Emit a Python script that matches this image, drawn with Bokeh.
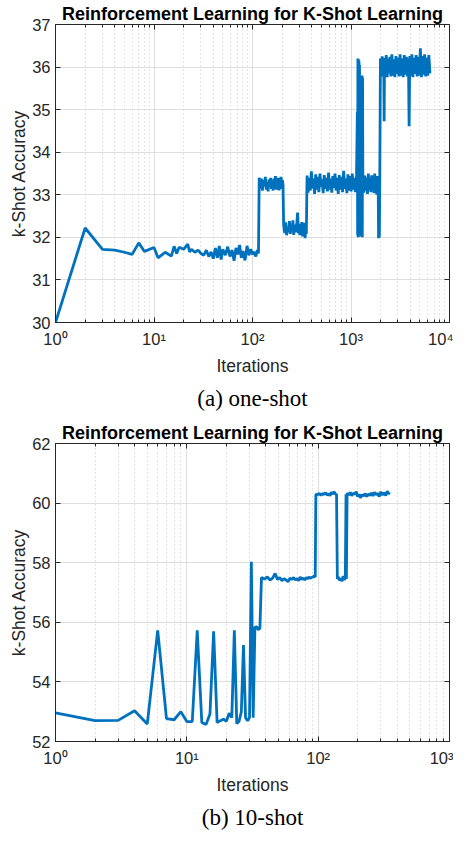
from bokeh.plotting import figure
from bokeh.models import (Range1d, FixedTicker, LogAxis, LinearAxis, Title,
                          CustomJSTickFormatter)
from bokeh.layouts import column
from bokeh.embed import file_html
from bokeh.resources import INLINE

# ---------------- data: one-shot ----------------
one_x_a = [1, 2, 3, 4, 5, 6, 7, 8, 10, 11, 13, 15, 16, 17, 18, 20, 22, 23,
           24, 26, 28, 30, 32, 34, 36, 38, 40, 42, 44, 46, 48, 50, 53, 56, 59,
           62, 65, 68, 71, 74, 77, 80, 84, 88, 92, 96, 100, 104, 108, 112, 115]
one_y_a = [30.0, 32.22, 31.72, 31.70, 31.65, 31.60, 31.87, 31.67, 31.76, 31.52,
           31.65, 31.56, 31.79, 31.62, 31.77, 31.72, 31.84, 31.66,
           31.72, 31.65, 31.70, 31.62, 31.58, 31.70, 31.55, 31.66, 31.50, 31.75,
           31.52, 31.80, 31.48, 31.72, 31.58, 31.78, 31.55, 31.70, 31.45, 31.75,
           31.60, 31.82, 31.52, 31.68, 31.46, 31.80, 31.58, 31.72, 31.60, 31.66,
           31.55, 31.70, 31.62]
one_x_b = [117, 120, 123, 126, 129, 132, 135, 138, 141, 144, 147, 150, 153, 156,
           159, 162, 165, 168, 171, 174, 177, 180, 183, 186, 189, 192, 195, 198,
           201, 204]
one_y_b = [33.40, 33.15, 33.38, 33.10, 33.35, 33.20, 33.42, 33.12, 33.30, 33.08,
           33.36, 33.18, 33.40, 33.14, 33.32, 33.10, 33.38, 33.22, 33.44, 33.12,
           33.34, 33.16, 33.40, 33.10, 33.36, 33.20, 33.42, 33.14, 33.35, 33.25]
one_x_c = [207, 212, 217, 222, 227, 232, 237, 242, 247, 252, 257, 262, 267, 272,
           277, 282, 287, 292, 297, 302, 307, 312, 317, 322, 327, 332, 337, 342,
           347, 352]
one_y_c = [32.30, 32.10, 32.35, 32.05, 32.25, 32.12, 32.38, 32.08, 32.28, 32.15,
           32.40, 32.06, 32.30, 32.12, 32.22, 32.35, 32.58, 32.10, 32.32, 32.05,
           32.28, 32.15, 32.36, 32.02, 32.30, 32.10, 32.34, 31.98, 32.25, 32.08]
one_x_d = [358, 367, 376, 386, 396, 406, 416, 427, 438, 449, 460, 472, 484, 496,
           509, 522, 535, 549, 563, 577, 592, 607, 622, 638, 654, 671, 688, 706,
           724, 742, 761, 780, 800, 821, 842, 863, 885, 908, 931, 955, 979, 1004,
           1030, 1056, 1083, 1110, 1138]
one_y_d = [33.45, 33.05, 33.40, 33.10, 33.55, 33.15, 33.38, 33.02, 33.48, 33.12,
           33.42, 33.06, 33.50, 33.18, 33.36, 33.04, 33.46, 33.14, 33.40, 33.08,
           33.52, 33.12, 33.38, 33.05, 33.44, 33.16, 33.50, 33.10, 33.40, 33.02,
           33.46, 33.12, 33.42, 33.06, 33.56, 33.14, 33.38, 33.04, 33.48, 33.10,
           33.44, 33.08, 33.50, 33.12, 33.40, 33.06, 33.45]
one_x_e = [1160, 1168, 1175, 1182, 1190, 1197, 1205, 1212, 1220, 1230, 1240,
           1255, 1270, 1285, 1295, 1302, 1310]
one_y_e = [34.95, 32.05, 36.20, 32.00, 36.18, 32.08, 36.15, 32.10, 36.05, 32.02,
           33.30, 33.10, 33.45, 33.20, 35.80, 32.00, 35.75]
one_x_f = [1320, 1350, 1380, 1410, 1440, 1470, 1500, 1530, 1560, 1590, 1620,
           1650, 1680, 1710, 1740, 1770, 1800, 1830, 1860, 1890, 1905, 1920,
           1940, 1960]
one_y_f = [33.30, 33.05, 33.45, 33.10, 33.40, 33.02, 33.50, 33.12, 33.38, 33.06,
           33.46, 33.10, 33.42, 33.04, 33.50, 33.14, 33.40, 33.00, 33.44, 33.10,
           31.98, 33.30, 32.00, 33.35]
one_x_g = [1990, 2030, 2070, 2110, 2150, 2170, 2190, 2230, 2280, 2330, 2380,
           2430, 2480, 2540, 2600, 2660, 2720, 2790, 2860, 2930, 3000, 3070,
           3150, 3230, 3310, 3390, 3470, 3560, 3650, 3740, 3830, 3890, 3950,
           4050, 4150, 4250, 4360, 4470, 4580, 4700, 4820, 4940, 5060, 5190,
           5320, 5450, 5590, 5730, 5870, 6020, 6170, 6330]
one_y_g = [36.20, 35.80, 36.25, 35.78, 36.10, 34.73, 36.22, 35.82, 36.28, 35.76,
           36.20, 35.85, 36.24, 35.78, 36.30, 35.80, 36.18, 35.76, 36.26, 35.84,
           36.22, 35.78, 36.30, 35.80, 36.20, 35.76, 36.28, 35.82, 36.24, 35.78,
           36.20, 34.61, 36.26, 35.80, 36.30, 35.76, 36.22, 35.84, 36.28, 35.78,
           36.24, 35.80, 36.44, 35.76, 36.26, 35.82, 36.30, 35.78, 36.22, 35.80,
           36.28, 35.85]

one_x = one_x_a + one_x_b + one_x_c + one_x_d + one_x_e + one_x_f + one_x_g
one_y = one_y_a + one_y_b + one_y_c + one_y_d + one_y_e + one_y_f + one_y_g

# ---------------- data: 10-shot ----------------
ten_x_a = [1, 2, 3, 4, 5, 6, 7, 8, 9, 10, 11, 12, 13, 14, 15, 16, 17, 18, 19,
           20, 21, 22, 23, 24, 25, 26, 27, 28, 29, 30, 31, 32, 33, 34, 35, 36]
ten_y_a = [52.96, 52.70, 52.71, 53.03, 52.59, 55.73, 52.77, 52.73, 53.00, 52.67,
           52.67, 55.73, 52.64, 52.57, 52.92, 55.70, 52.64, 52.70, 52.75, 52.68,
           52.95, 52.80, 55.73, 52.60, 52.68, 53.00, 55.24, 52.80, 52.70, 52.80,
           58.03, 52.80, 55.83, 55.85, 55.75, 55.80]
ten_x_b = [37, 39, 41, 43, 45, 47, 49, 51, 53, 55, 57, 59, 61, 63, 65, 67, 69,
           71, 73, 75, 77, 79, 81, 83, 85, 87, 89, 91, 93, 95]
ten_y_b = [57.50, 57.45, 57.52, 57.42, 57.48, 57.64, 57.44, 57.50, 57.40, 57.46,
           57.42, 57.36, 57.48, 57.44, 57.50, 57.42, 57.47, 57.40, 57.52, 57.44,
           57.48, 57.42, 57.50, 57.46, 57.52, 57.48, 57.50, 57.52, 57.55, 57.52]
ten_x_c = [96, 99, 102, 105, 108, 111, 114, 117, 120, 123, 126, 129, 132, 135,
           138]
ten_y_c = [60.30, 60.28, 60.33, 60.26, 60.32, 60.29, 60.35, 60.27, 60.31, 60.25,
           60.36, 60.30, 60.38, 60.31, 60.28]
ten_x_d = [140, 143, 146, 149, 152, 155, 158, 161, 163, 164, 166]
ten_y_d = [57.45, 57.52, 57.40, 57.48, 57.38, 57.55, 57.42, 57.50, 60.30, 57.45,
           60.30]
ten_x_e = [168, 172, 176, 180, 185, 190, 195, 200, 205, 210, 216, 222, 228, 234,
           240, 247, 254, 261, 268, 276, 284, 292, 300, 309, 318, 327, 336, 345,
           348]
ten_y_e = [60.32, 60.28, 60.36, 60.25, 60.33, 60.30, 60.38, 60.22, 60.30, 60.18,
           60.28, 60.24, 60.32, 60.22, 60.30, 60.26, 60.34, 60.24, 60.36, 60.28,
           60.33, 60.22, 60.38, 60.27, 60.35, 60.25, 60.40, 60.30, 60.36]

ten_x = ten_x_a + ten_x_b + ten_x_c + ten_x_d + ten_x_e
ten_y = ten_y_a + ten_y_b + ten_y_c + ten_y_d + ten_y_e

# ---------------- ticks / labels ----------------
one_xticks = [1, 10, 100, 1000, 10000]
one_xlabels = ["10⁰", "10¹", "10²", "10³", "10⁴"]
one_yticks = [30, 31, 32, 33, 34, 35, 36, 37]
ten_xticks = [1, 10, 100, 1000]
ten_xlabels = ["10⁰", "10¹", "10²", "10³"]
ten_yticks = [52, 54, 56, 58, 60, 62]

TITLE = "Reinforcement Learning for K-Shot Learning"
XLABEL = "Iterations"
YLABEL = "k-Shot Accuracy"

LINE = "#0072BD"
AX = "#262626"
SANS = "Liberation Sans"


def minor_for(majors):
    out = []
    for m in majors[:-1]:
        out += [m * k for k in range(2, 10)]
    return out


def make(xs, ys, xticks, xlabels, yticks, caption):
    xt = FixedTicker(ticks=xticks, minor_ticks=minor_for(xticks))
    yt = FixedTicker(ticks=yticks, minor_ticks=[])
    p = figure(x_axis_type="log", x_range=Range1d(xticks[0], xticks[-1]),
               y_range=Range1d(yticks[0], yticks[-1]),
               frame_width=394, frame_height=298,
               output_backend="svg", toolbar_location=None,
               min_border_left=55, min_border_right=4, min_border_top=0,
               min_border_bottom=0, background_fill_color="white",
               border_fill_color="white")
    p.title.text = TITLE
    p.title.text_font = SANS
    p.title.text_font_size = "18px"
    p.title.text_font_style = "bold"
    p.title.align = "center"
    p.title.text_color = "black"
    p.title.standoff = 2

    p.outline_line_color = AX
    p.outline_line_width = 1

    for ax in (p.xaxis[0], p.yaxis[0]):
        ax.axis_line_color = AX
        ax.major_tick_line_color = AX
        ax.minor_tick_line_color = AX
        ax.major_tick_in = 5
        ax.major_tick_out = 0
        ax.minor_tick_in = 3
        ax.minor_tick_out = 0
        ax.major_label_text_font = SANS
        ax.major_label_text_font_size = "16.5px"
        ax.major_label_text_color = AX
        ax.axis_label_text_font = SANS
        ax.axis_label_text_font_size = "17.5px"
        ax.axis_label_text_font_style = "normal"
        ax.axis_label_text_color = AX

    p.xaxis[0].ticker = xt
    p.xaxis[0].major_label_overrides = {t: l for t, l in zip(xticks, xlabels)}
    p.xaxis[0].axis_label = XLABEL
    p.xaxis[0].major_label_standoff = 7
    p.xaxis[0].axis_label_standoff = 5
    p.yaxis[0].ticker = yt
    p.yaxis[0].axis_label = YLABEL
    p.yaxis[0].major_label_standoff = 5
    p.yaxis[0].axis_label_standoff = 0

    blank = CustomJSTickFormatter(code="return ''")
    top = LogAxis(ticker=xt, formatter=blank, axis_line_color=AX,
                  major_tick_line_color=AX, minor_tick_line_color=AX,
                  major_tick_in=5, major_tick_out=0, minor_tick_in=3,
                  minor_tick_out=0, major_label_standoff=0)
    right = LinearAxis(ticker=yt, formatter=blank, axis_line_color=AX,
                       major_tick_line_color=AX, minor_tick_line_color=AX,
                       major_tick_in=5, major_tick_out=0, minor_tick_in=0,
                       minor_tick_out=0, major_label_standoff=0)
    p.add_layout(top, "above")
    p.add_layout(right, "right")

    p.xgrid.grid_line_color = "#dedede"
    p.xgrid.grid_line_width = 1
    p.xgrid.minor_grid_line_color = "#c8c8c8"
    p.xgrid.minor_grid_line_dash = "1 3"
    p.ygrid.grid_line_color = "#dedede"

    p.line(xs, ys, line_color=LINE, line_width=2.8)

    cap = Title(text=caption, align="center", text_font="Liberation Serif",
                text_font_size="23px", text_font_style="normal",
                text_color="black", standoff=10)
    p.add_layout(cap, "below")
    return p


p1 = make(one_x, one_y, one_xticks, one_xlabels, one_yticks, "(a) one-shot")
p2 = make(ten_x, ten_y, ten_xticks, ten_xlabels, ten_yticks, "(b) 10-shot")

layout = column(p1, p2, spacing=4)
open("out.html", "w").write(file_html(layout, INLINE))
